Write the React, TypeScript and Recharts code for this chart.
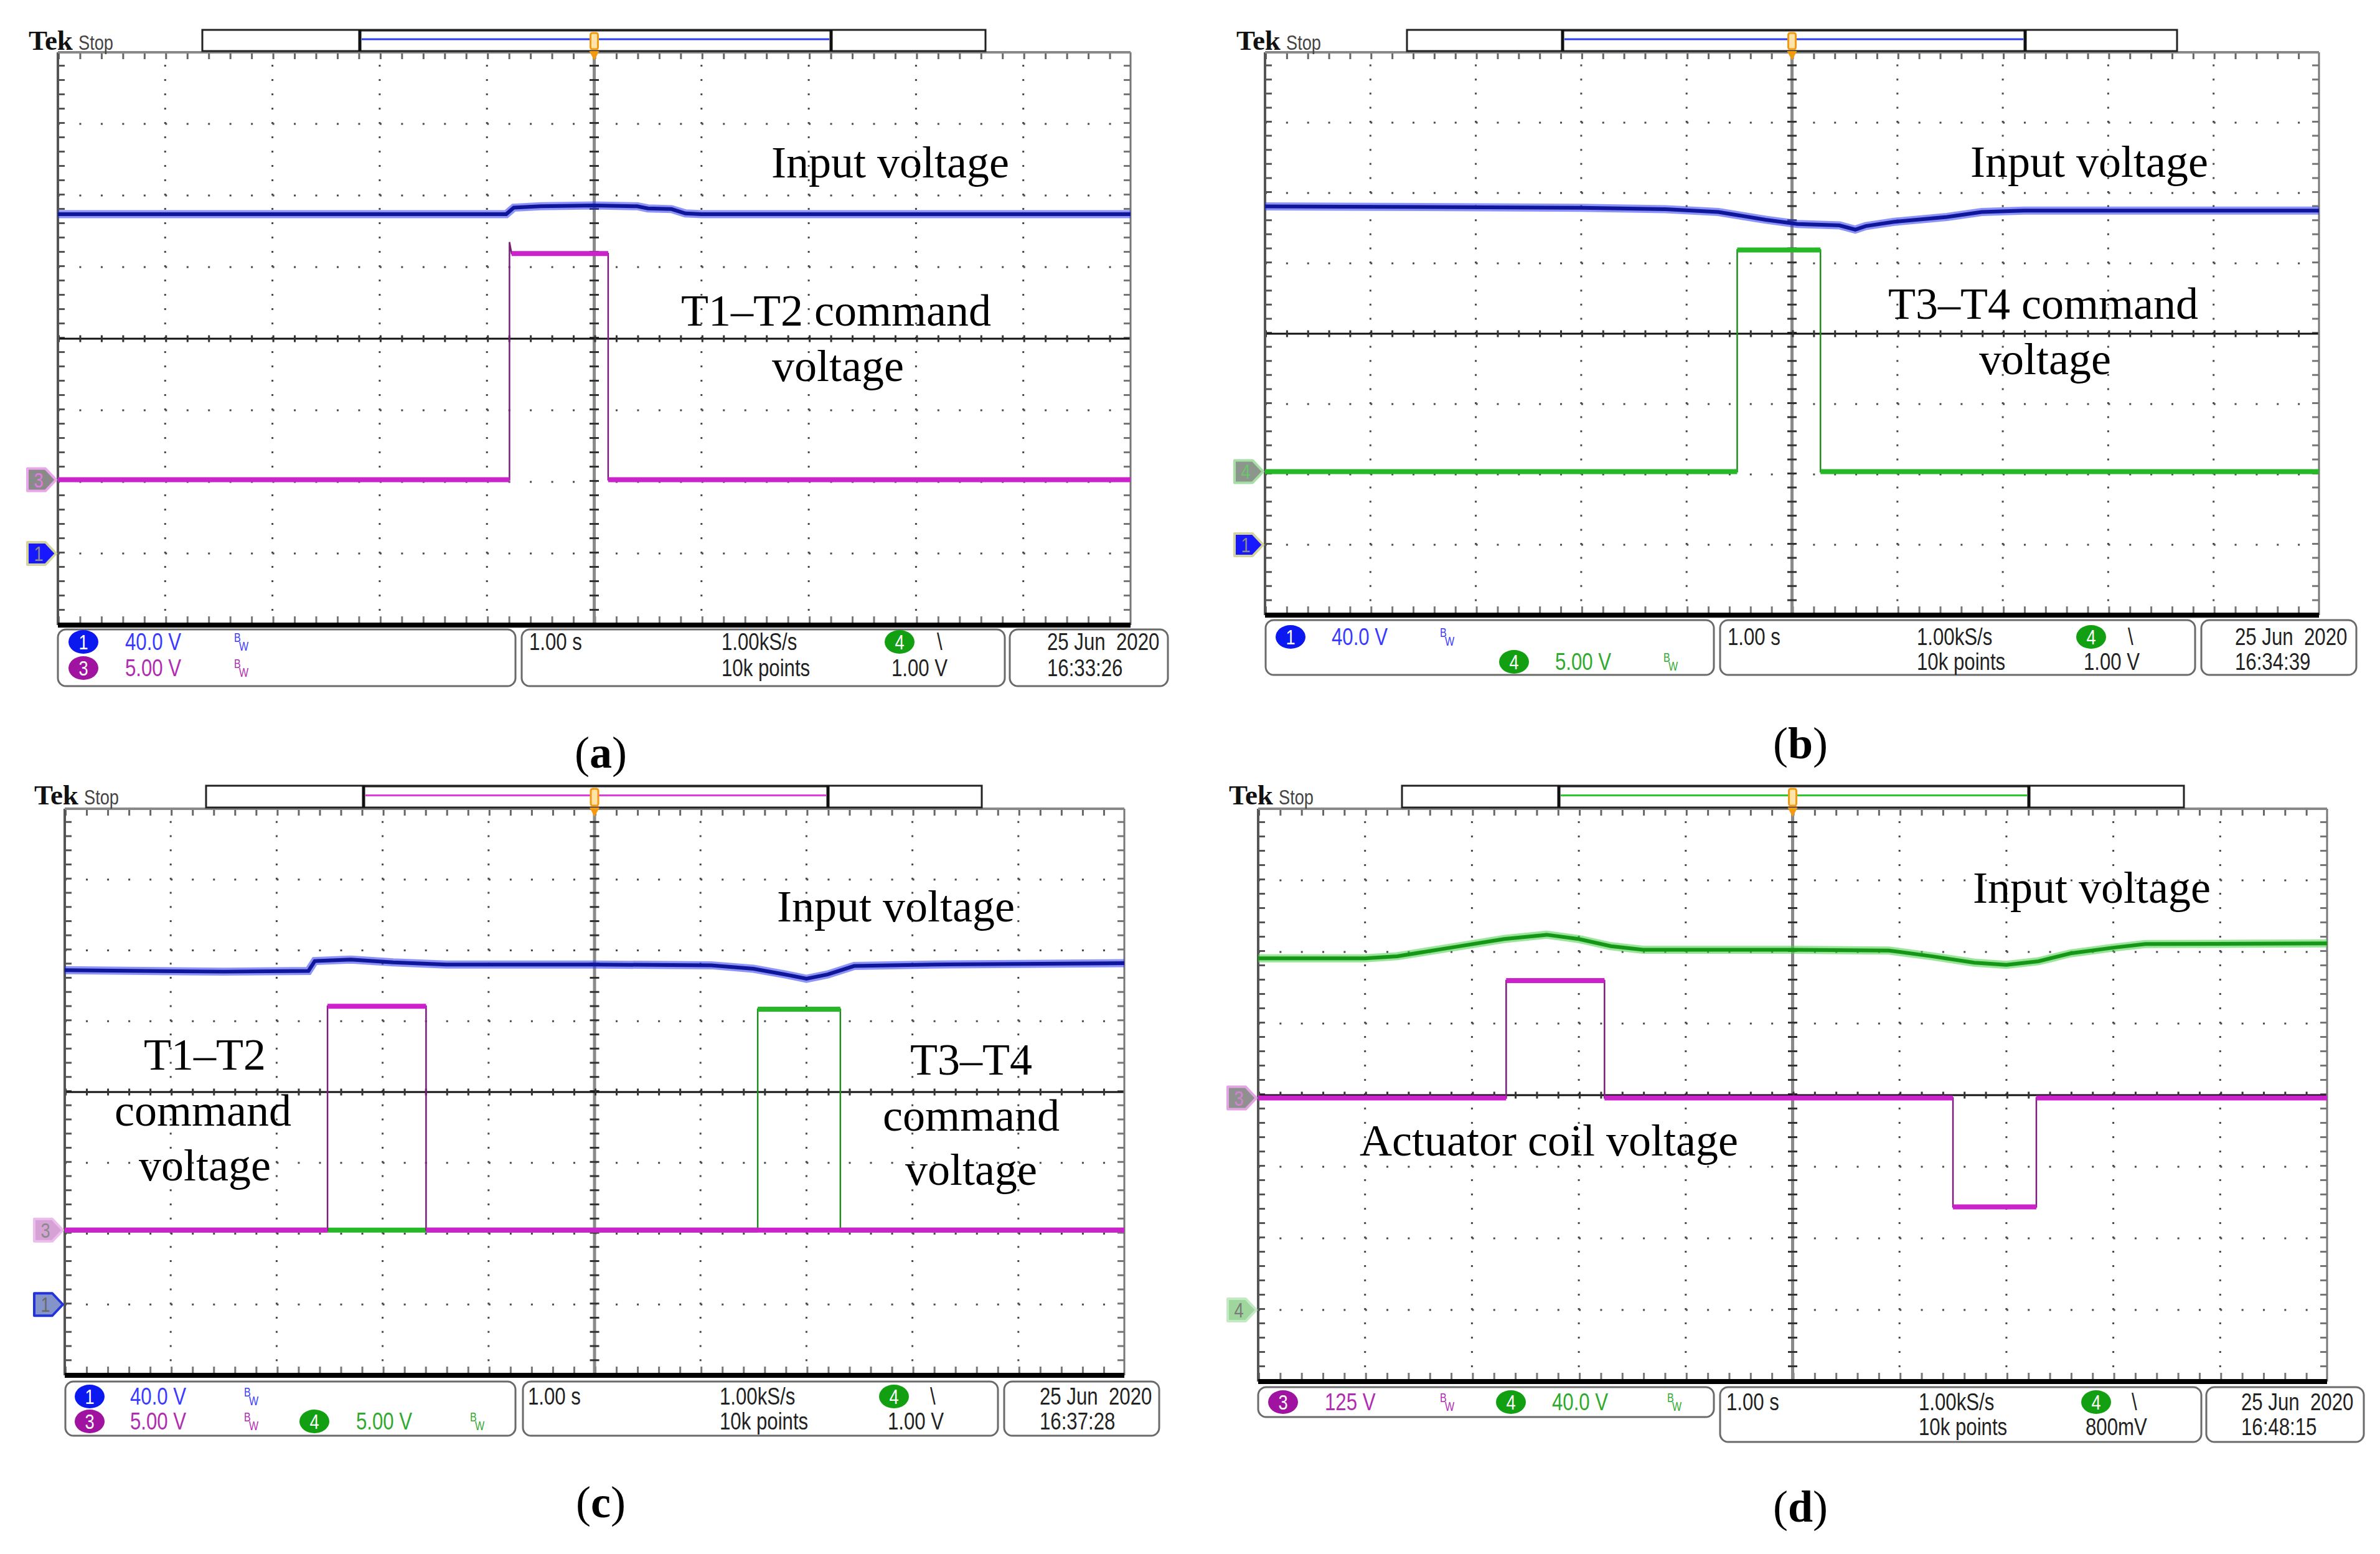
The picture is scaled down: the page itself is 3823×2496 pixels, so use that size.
import React from "react";
import { ComposedChart, Line, XAxis, YAxis, ReferenceLine } from "recharts";

type Pt = [number, number];

// traces, read in screen divisions (x 0..10, y -4..4)
const A_INPUT: Pt[] = [[0, 1.74], [2, 1.74], [4.18, 1.74], [4.25, 1.83], [4.5, 1.85], [5.0, 1.86], [5.4, 1.85], [5.5, 1.82], [5.72, 1.81], [5.85, 1.75], [6.0, 1.74], [10, 1.74]];
const A_T1T2: Pt[] = [[0, -1.97], [4.21, -1.97], [4.21, 1.35], [4.23, 1.19], [5.13, 1.19], [5.13, -1.97], [10, -1.97]];

const B_INPUT: Pt[] = [[0, 1.81], [3.0, 1.79], [3.8, 1.77], [4.3, 1.73], [4.75, 1.62], [5.05, 1.56], [5.45, 1.54], [5.6, 1.48], [5.7, 1.53], [5.97, 1.59], [6.47, 1.66], [6.8, 1.73], [7.2, 1.75], [10, 1.75]];
const B_T3T4: Pt[] = [[0, -1.96], [4.48, -1.96], [4.48, 1.19], [5.27, 1.19], [5.27, -1.96], [10, -1.96]];

const C_INPUT: Pt[] = [[0, 1.72], [1.5, 1.7], [2.3, 1.71], [2.36, 1.85], [2.7, 1.87], [3.1, 1.83], [3.6, 1.8], [5.0, 1.8], [6.1, 1.79], [6.5, 1.74], [6.8, 1.66], [7.0, 1.6], [7.2, 1.66], [7.45, 1.78], [8.2, 1.8], [10, 1.82]];
const C_T1T2: Pt[] = [[0, -1.95], [2.48, -1.95], [2.48, 1.21], [3.41, 1.21], [3.41, -1.95], [10, -1.95]];
const C_T3T4: Pt[] = [[0, -1.95], [6.54, -1.95], [6.54, 1.17], [7.32, 1.17], [7.32, -1.95], [10, -1.95]];

const D_INPUT: Pt[] = [[0, 1.91], [1.0, 1.91], [1.3, 1.94], [1.8, 2.06], [2.3, 2.18], [2.7, 2.24], [3.0, 2.18], [3.3, 2.08], [3.6, 2.03], [5.0, 2.03], [5.9, 2.02], [6.3, 1.94], [6.7, 1.85], [7.0, 1.82], [7.3, 1.87], [7.6, 1.98], [8.0, 2.06], [8.3, 2.11], [10, 2.12]];
const D_COIL: Pt[] = [[0, -0.04], [2.32, -0.04], [2.32, 1.6], [3.24, 1.6], [3.24, -0.04], [6.5, -0.04], [6.5, -1.56], [7.28, -1.56], [7.28, -0.04], [10, -0.04]];

const X_DIVS = [1, 2, 3, 4, 6, 7, 8, 9];
const Y_DIVS = [-3, -2, -1, 1, 2, 3];

// readout texts
type Info = { k: "txt" | "badge" | "bw"; x: number; r: 0 | 1; c: string; t?: string };
type Note = { t: string; x: number; y: number };

const CH1 = "#3a3aff";
const CH3 = "#b02cb0";
const CH4 = "#2faa2f";
const INK = "#222";

const A_INFO: Info[] = [
  { k: "badge", t: "1", x: 134, r: 0, c: "#0c18f0" },
  { k: "txt", t: "40.0 V", x: 201, r: 0, c: CH1 },
  { k: "bw", x: 376, r: 0, c: CH1 },
  { k: "badge", t: "3", x: 134, r: 1, c: "#a012a0" },
  { k: "txt", t: "5.00 V", x: 201, r: 1, c: CH3 },
  { k: "bw", x: 376, r: 1, c: CH3 },
  { k: "txt", t: "1.00 s", x: 850, r: 0, c: INK },
  { k: "txt", t: "1.00kS/s", x: 1159, r: 0, c: INK },
  { k: "badge", t: "4", x: 1445, r: 0, c: "#12a012" },
  { k: "txt", t: "\\", x: 1505, r: 0, c: INK },
  { k: "txt", t: "10k points", x: 1159, r: 1, c: INK },
  { k: "txt", t: "1.00 V", x: 1432, r: 1, c: INK },
  { k: "txt", t: "25 Jun  2020", x: 1682, r: 0, c: INK },
  { k: "txt", t: "16:33:26", x: 1682, r: 1, c: INK },
];
const B_INFO: Info[] = [
  { k: "badge", t: "1", x: 2073, r: 0, c: "#0c18f0" },
  { k: "txt", t: "40.0 V", x: 2139, r: 0, c: CH1 },
  { k: "bw", x: 2313, r: 0, c: CH1 },
  { k: "badge", t: "4", x: 2432, r: 1, c: "#12a012" },
  { k: "txt", t: "5.00 V", x: 2498, r: 1, c: CH4 },
  { k: "bw", x: 2672, r: 1, c: CH4 },
  { k: "txt", t: "1.00 s", x: 2775, r: 0, c: INK },
  { k: "txt", t: "1.00kS/s", x: 3079, r: 0, c: INK },
  { k: "badge", t: "4", x: 3359, r: 0, c: "#12a012" },
  { k: "txt", t: "\\", x: 3418, r: 0, c: INK },
  { k: "txt", t: "10k points", x: 3079, r: 1, c: INK },
  { k: "txt", t: "1.00 V", x: 3347, r: 1, c: INK },
  { k: "txt", t: "25 Jun  2020", x: 3590, r: 0, c: INK },
  { k: "txt", t: "16:34:39", x: 3590, r: 1, c: INK },
];
const C_INFO: Info[] = [
  { k: "badge", t: "1", x: 144, r: 0, c: "#0c18f0" },
  { k: "txt", t: "40.0 V", x: 209, r: 0, c: CH1 },
  { k: "bw", x: 392, r: 0, c: CH1 },
  { k: "badge", t: "3", x: 144, r: 1, c: "#a012a0" },
  { k: "txt", t: "5.00 V", x: 209, r: 1, c: CH3 },
  { k: "bw", x: 392, r: 1, c: CH3 },
  { k: "badge", t: "4", x: 505, r: 1, c: "#12a012" },
  { k: "txt", t: "5.00 V", x: 572, r: 1, c: CH4 },
  { k: "bw", x: 755, r: 1, c: CH4 },
  { k: "txt", t: "1.00 s", x: 848, r: 0, c: INK },
  { k: "txt", t: "1.00kS/s", x: 1156, r: 0, c: INK },
  { k: "badge", t: "4", x: 1436, r: 0, c: "#12a012" },
  { k: "txt", t: "\\", x: 1494, r: 0, c: INK },
  { k: "txt", t: "10k points", x: 1156, r: 1, c: INK },
  { k: "txt", t: "1.00 V", x: 1426, r: 1, c: INK },
  { k: "txt", t: "25 Jun  2020", x: 1670, r: 0, c: INK },
  { k: "txt", t: "16:37:28", x: 1670, r: 1, c: INK },
];
const D_INFO: Info[] = [
  { k: "badge", t: "3", x: 2061, r: 0, c: "#a012a0" },
  { k: "txt", t: "125 V", x: 2128, r: 0, c: CH3 },
  { k: "bw", x: 2313, r: 0, c: CH3 },
  { k: "badge", t: "4", x: 2427, r: 0, c: "#12a012" },
  { k: "txt", t: "40.0 V", x: 2493, r: 0, c: CH4 },
  { k: "bw", x: 2678, r: 0, c: CH4 },
  { k: "txt", t: "1.00 s", x: 2773, r: 0, c: INK },
  { k: "txt", t: "1.00kS/s", x: 3082, r: 0, c: INK },
  { k: "badge", t: "4", x: 3367, r: 0, c: "#12a012" },
  { k: "txt", t: "\\", x: 3424, r: 0, c: INK },
  { k: "txt", t: "10k points", x: 3082, r: 1, c: INK },
  { k: "txt", t: "800mV", x: 3350, r: 1, c: INK },
  { k: "txt", t: "25 Jun  2020", x: 3600, r: 0, c: INK },
  { k: "txt", t: "16:48:15", x: 3600, r: 1, c: INK },
];

const A_NOTES: Note[] = [
  { t: "Input voltage", x: 1430, y: 285 },
  { t: "T1–T2 command", x: 1343, y: 523 },
  { t: "voltage", x: 1346, y: 612 },
];
const B_NOTES: Note[] = [
  { t: "Input voltage", x: 3356, y: 284 },
  { t: "T3–T4 command", x: 3282, y: 512 },
  { t: "voltage", x: 3285, y: 601 },
];
const C_NOTES: Note[] = [
  { t: "Input voltage", x: 1439, y: 1480 },
  { t: "T1–T2", x: 329, y: 1718 },
  { t: "command", x: 326, y: 1808 },
  { t: "voltage", x: 329, y: 1896 },
  { t: "T3–T4", x: 1560, y: 1726 },
  { t: "command", x: 1560, y: 1816 },
  { t: "voltage", x: 1560, y: 1903 },
];
const D_NOTES: Note[] = [
  { t: "Input voltage", x: 3360, y: 1450 },
  { t: "Actuator coil voltage", x: 2488, y: 1856 },
];

const SERIF = "'Liberation Serif', 'DejaVu Serif', serif";
const SANS = "'Liberation Sans', Arimo, sans-serif";
const SQUEEZE = 0.8; // scope readout font is tall and narrow

const BLUE = { core: "#10169a", halo: "#2f3df2" };
const GREENI = { core: "#169616", halo: "#45d045" };
const MAG = { edge: "#7a1e7a", band: "#cc22cc" };
const GRN = { edge: "#1e8c1e", band: "#27b827" };

type Trace =
  | { kind: "smooth"; pts: Pt[]; core: string; halo: string }
  | { kind: "step"; pts: Pt[]; edge: string; band: string };

type Marker = { ch: string; v: number; fill: string; stroke: string; text: string };

interface Panel {
  id: string;
  grid: { x: number; y: number; w: number; h: number };
  tek: { x: number; y: number };
  bar: { x1: number; x2: number; i1: number; i2: number; y1: number; y2: number; color: string };
  traces: Trace[];
  markers: Marker[];
  boxes: { x: number; y: number; w: number; h: number }[];
  rows: [number, number];
  info: Info[];
  notes: Note[];
  caption: { x: number; y: number; letter: string };
}

const PANELS: Panel[] = [
  {
    id: "a",
    grid: { x: 93, y: 84, w: 1723, h: 920 },
    tek: { x: 46, y: 80 },
    bar: { x1: 325, x2: 1583, i1: 578, i2: 1335, y1: 48, y2: 82, color: "#2a3cf0" },
    traces: [
      { kind: "smooth", pts: A_INPUT, ...BLUE },
      { kind: "step", pts: A_T1T2, ...MAG },
    ],
    markers: [
      { ch: "3", v: -1.97, fill: "#8a8a8a", stroke: "#eaa6ea", text: "#e27ae2" },
      { ch: "1", v: -3.0, fill: "#1818ff", stroke: "#d4d49c", text: "#8a8a8a" },
    ],
    boxes: [
      { x: 93, y: 1011, w: 735, h: 91 },
      { x: 838, y: 1011, w: 776, h: 91 },
      { x: 1622, y: 1011, w: 254, h: 91 },
    ],
    rows: [1044, 1086],
    info: A_INFO,
    notes: A_NOTES,
    caption: { x: 965, y: 1233, letter: "a" },
  },
  {
    id: "b",
    grid: { x: 2032, y: 84, w: 1693, h: 904 },
    tek: { x: 1986, y: 80 },
    bar: { x1: 2260, x2: 3497, i1: 2510, i2: 3253, y1: 48, y2: 82, color: "#2a3cf0" },
    traces: [
      { kind: "smooth", pts: B_INPUT, ...BLUE },
      { kind: "step", pts: B_T3T4, ...GRN },
    ],
    markers: [
      { ch: "4", v: -1.96, fill: "#8c968c", stroke: "#a6dea6", text: "#6cc46c" },
      { ch: "1", v: -3.0, fill: "#1818ff", stroke: "#d4d49c", text: "#8a8a8a" },
    ],
    boxes: [
      { x: 2033, y: 996, w: 720, h: 88 },
      { x: 2763, y: 996, w: 763, h: 88 },
      { x: 3536, y: 996, w: 249, h: 88 },
    ],
    rows: [1036, 1076],
    info: B_INFO,
    notes: B_NOTES,
    caption: { x: 2892, y: 1218, letter: "b" },
  },
  {
    id: "c",
    grid: { x: 104, y: 1299, w: 1702, h: 910 },
    tek: { x: 55, y: 1292 },
    bar: { x1: 331, x2: 1577, i1: 584, i2: 1330, y1: 1262, y2: 1297, color: "#e03ce0" },
    traces: [
      { kind: "smooth", pts: C_INPUT, ...BLUE },
      { kind: "step", pts: C_T3T4, ...GRN },
      { kind: "step", pts: C_T1T2, ...MAG },
    ],
    markers: [
      { ch: "3", v: -1.95, fill: "#d6a2d6", stroke: "#ecbcec", text: "#8a8a8a" },
      { ch: "1", v: -3.0, fill: "#8494c8", stroke: "#2233dd", text: "#6a6a6a" },
    ],
    boxes: [
      { x: 105, y: 2219, w: 723, h: 87 },
      { x: 840, y: 2219, w: 763, h: 87 },
      { x: 1613, y: 2219, w: 249, h: 87 },
    ],
    rows: [2256, 2296],
    info: C_INFO,
    notes: C_NOTES,
    caption: { x: 965, y: 2437, letter: "c" },
  },
  {
    id: "d",
    grid: { x: 2021, y: 1299, w: 1717, h: 920 },
    tek: { x: 1974, y: 1292 },
    bar: { x1: 2252, x2: 3508, i1: 2504, i2: 3259, y1: 1262, y2: 1297, color: "#2cc82c" },
    traces: [
      { kind: "smooth", pts: D_INPUT, ...GREENI },
      { kind: "step", pts: D_COIL, ...MAG },
    ],
    markers: [
      { ch: "3", v: -0.04, fill: "#909090", stroke: "#e2a4e2", text: "#d284d2" },
      { ch: "4", v: -3.0, fill: "#9ed69e", stroke: "#c4eac4", text: "#7a7a7a" },
    ],
    boxes: [
      { x: 2021, y: 2228, w: 732, h: 48 },
      { x: 2763, y: 2228, w: 773, h: 88 },
      { x: 3544, y: 2228, w: 253, h: 88 },
    ],
    rows: [2265, 2305],
    info: D_INFO,
    notes: D_NOTES,
    caption: { x: 2892, y: 2444, letter: "d" },
  },
];

const toData = (pts: Pt[]) => pts.map(([x, y]) => ({ x, y }));

// keep only the flat (noisy) parts of a step trace
const flatParts = (pts: Pt[]) => {
  const out: { x: number; y: number | null }[] = [];
  pts.forEach(([x, y], i) => {
    out.push({ x, y });
    const n = pts[i + 1];
    if (n && Math.abs(n[0] - x) < 0.03) out.push({ x, y: null });
  });
  return out;
};

const PAD = 14;

function Screen({ p }: { p: Panel }) {
  const { x, y, w, h } = p.grid;
  const dw = w / 10;
  const dh = h / 8;
  const hDash = `3 ${dw / 5 - 3}`;
  const vDash = `3 ${dh / 5 - 3}`;
  const common = { dot: false, activeDot: false, isAnimationActive: false, type: "linear" as const, dataKey: "y" };

  return (
    <div style={{ position: "absolute", left: x - PAD, top: y - PAD }}>
      <ComposedChart width={w + 2 * PAD} height={h + 2 * PAD} margin={{ top: PAD, right: PAD, bottom: PAD, left: PAD }}>
        <XAxis type="number" dataKey="x" domain={[0, 10]} hide allowDataOverflow />
        <YAxis type="number" domain={[-4, 4]} hide allowDataOverflow />
        {X_DIVS.map((v) => (
          <ReferenceLine key={`gx${v}`} x={v} stroke="#4a4a4a" strokeWidth={3} strokeDasharray={vDash} />
        ))}
        {Y_DIVS.map((v) => (
          <ReferenceLine key={`gy${v}`} y={v} stroke="#4a4a4a" strokeWidth={3} strokeDasharray={hDash} />
        ))}
        <ReferenceLine x={6 / dw} stroke="#555" strokeWidth={10} strokeDasharray={vDash} />
        <ReferenceLine x={10 - 6 / dw} stroke="#777" strokeWidth={10} strokeDasharray={vDash} />
        <ReferenceLine y={4 - 6 / dh} stroke="#666" strokeWidth={10} strokeDasharray={hDash} />
        <ReferenceLine y={-4 + 9 / dh} stroke="#777" strokeWidth={10} strokeDasharray={hDash} />
        <ReferenceLine x={5} stroke="#8a8a8a" strokeWidth={5} />
        <ReferenceLine x={5} stroke="#333" strokeWidth={15} strokeDasharray={vDash} />
        <ReferenceLine y={0} stroke="#111" strokeWidth={3} />
        <ReferenceLine y={0} stroke="#333" strokeWidth={11} strokeDasharray={hDash} />
        <ReferenceLine x={0} stroke="#555" strokeWidth={4} />
        <ReferenceLine x={10} stroke="#777" strokeWidth={3} />
        <ReferenceLine y={4} stroke="#888" strokeWidth={4} />
        <ReferenceLine y={-4} stroke="#000" strokeWidth={8} />
        {p.traces.flatMap((tr, i) =>
          tr.kind === "smooth"
            ? [
                <Line key={`h${i}`} {...common} data={toData(tr.pts)} stroke={tr.halo} strokeWidth={13} strokeOpacity={0.55} />,
                <Line key={`c${i}`} {...common} data={toData(tr.pts)} stroke={tr.core} strokeWidth={6} />,
              ]
            : [
                <Line key={`e${i}`} {...common} data={toData(tr.pts)} stroke={tr.edge} strokeWidth={2.5} />,
                <Line key={`b${i}`} {...common} data={flatParts(tr.pts)} stroke={tr.band} strokeWidth={8} />,
              ]
        )}
      </ComposedChart>
    </div>
  );
}

function Narrow({ x, y, size, fill, children, anchor }: { x: number; y: number; size: number; fill: string; children: React.ReactNode; anchor?: "middle" }) {
  return (
    <g transform={`translate(${x},${y}) scale(${SQUEEZE},1)`}>
      <text x={0} y={0} fontFamily={SANS} fontSize={size} fill={fill} textAnchor={anchor} style={{ whiteSpace: "pre" }}>
        {children}
      </text>
    </g>
  );
}

function Decor({ p }: { p: Panel }) {
  const { x, y, w, h } = p.grid;
  const cx = x + w / 2;
  const b = p.bar;
  const lineY = b.y1 + (b.y2 - b.y1) * 0.44;
  const py = (v: number) => y + ((4 - v) / 8) * h;

  return (
    <g>
      <text x={p.tek.x} y={p.tek.y} fontFamily={SERIF} fontWeight={700} fontSize={45} fill="#111">Tek</text>
      <Narrow x={p.tek.x + 80} y={p.tek.y} size={34} fill="#444">Stop</Narrow>

      <rect x={b.x1} y={b.y1} width={b.x2 - b.x1} height={b.y2 - b.y1} fill="#fff" stroke="#222" strokeWidth={3} />
      <line x1={b.i1} x2={b.i2} y1={b.y1 + 1} y2={b.y1 + 1} stroke="#222" strokeWidth={3} />
      <line x1={b.i1} x2={b.i1} y1={b.y1} y2={b.y2} stroke="#111" strokeWidth={5} />
      <line x1={b.i2} x2={b.i2} y1={b.y1} y2={b.y2} stroke="#111" strokeWidth={5} />
      <line x1={b.i1 + 3} x2={b.i2 - 3} y1={lineY} y2={lineY} stroke={b.color} strokeWidth={3} />

      <rect x={cx - 6} y={b.y1 + 5} width={12} height={b.y2 - b.y1 - 8} rx={3} fill="#ffe3a8" stroke="#f29a10" strokeWidth={3} />
      <polygon points={`${cx - 8},${b.y2} ${cx + 8},${b.y2} ${cx},${b.y2 + 15}`} fill="#f29a10" />

      {p.markers.map((m) => {
        const my = py(m.v);
        const r = x - 3;
        return (
          <g key={m.ch}>
            <polygon
              points={`${r - 46},${my - 18} ${r - 17},${my - 18} ${r},${my} ${r - 17},${my + 18} ${r - 46},${my + 18}`}
              fill={m.fill}
              stroke={m.stroke}
              strokeWidth={4}
              strokeLinejoin="round"
            />
            <Narrow x={r - 28} y={my + 12} size={34} fill={m.text} anchor="middle">{m.ch}</Narrow>
          </g>
        );
      })}

      {p.boxes.map((bx, i) => (
        <rect key={i} x={bx.x} y={bx.y} width={bx.w} height={bx.h} rx={13} fill="#fff" stroke="#6a6a6a" strokeWidth={3} />
      ))}

      {p.info.map((it, i) => {
        const by = p.rows[it.r];
        if (it.k === "badge") {
          return (
            <g key={i}>
              <ellipse cx={it.x} cy={by - 13} rx={24} ry={19} fill={it.c} />
              <Narrow x={it.x} y={by - 1} size={34} fill="#fff" anchor="middle">{it.t}</Narrow>
            </g>
          );
        }
        if (it.k === "bw") {
          return (
            <g key={i}>
              <Narrow x={it.x} y={by - 13} size={20} fill={it.c}>B</Narrow>
              <Narrow x={it.x + 8} y={by + 1} size={20} fill={it.c}>W</Narrow>
            </g>
          );
        }
        return (
          <Narrow key={i} x={it.x} y={by} size={39} fill={it.c}>{it.t}</Narrow>
        );
      })}

      {p.notes.map((n, i) => (
        <text key={i} x={n.x} y={n.y} textAnchor="middle" fontFamily={SERIF} fontSize={72} fill="#000">{n.t}</text>
      ))}

      <text x={p.caption.x} y={p.caption.y} textAnchor="middle" fontFamily={SERIF} fontSize={72} fill="#000">
        (<tspan fontWeight={700}>{p.caption.letter}</tspan>)
      </text>
    </g>
  );
}

export default function App() {
  return (
    <div style={{ position: "absolute", left: 0, top: 0, width: 3823, height: 2496, background: "#fff", overflow: "hidden" }}>
      {PANELS.map((p) => (
        <Screen key={p.id} p={p} />
      ))}
      <svg width={3823} height={2496} style={{ position: "absolute", left: 0, top: 0, pointerEvents: "none" }}>
        {PANELS.map((p) => (
          <Decor key={p.id} p={p} />
        ))}
      </svg>
    </div>
  );
}
